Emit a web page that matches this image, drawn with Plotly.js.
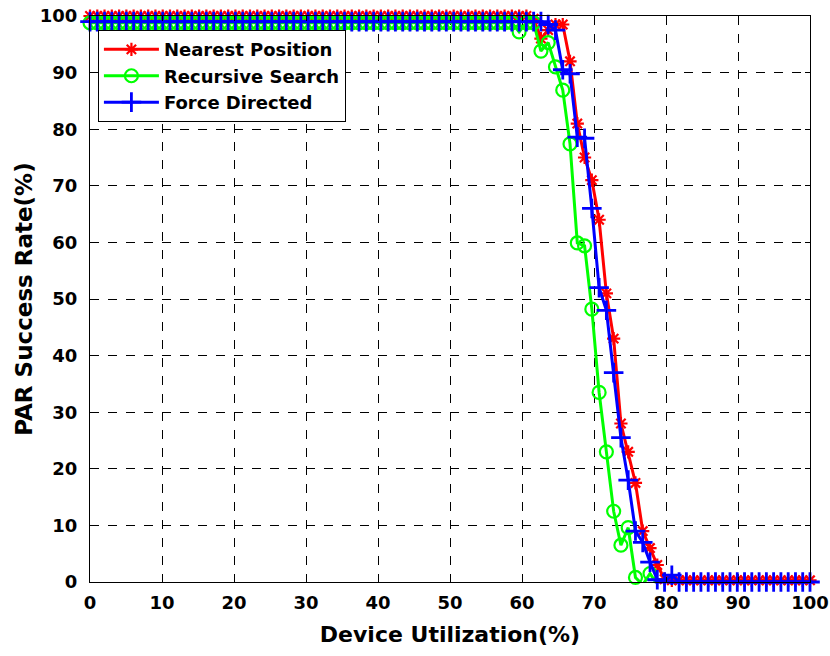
<!DOCTYPE html>
<html>
<head>
<meta charset="utf-8">
<script src="https://cdn.plot.ly/plotly-3.0.1.min.js"></script>
<style>
  html, body { margin: 0; padding: 0; background: #fff; }
  #chart { width: 830px; height: 656px; }
</style>
</head>
<body>
<div id="chart"></div>
<script>
// Device utilization (%) at each sampled point
const utilization = [
  0, 1.01, 2.02, 3.03, 4.04, 5.05, 6.06, 7.07, 8.08, 9.09,
  10.10, 11.11, 12.12, 13.13, 14.14, 15.15, 16.16, 17.17, 18.18, 19.19,
  20.20, 21.21, 22.22, 23.23, 24.24, 25.25, 26.26, 27.27, 28.28, 29.29,
  30.30, 31.31, 32.32, 33.33, 34.34, 35.35, 36.36, 37.37, 38.38, 39.39,
  40.40, 41.41, 42.42, 43.43, 44.44, 45.45, 46.46, 47.47, 48.48, 49.49,
  50.51, 51.52, 52.53, 53.54, 54.55, 55.56, 56.57, 57.58, 58.59, 59.60,
  60.61, 61.62, 62.63, 63.64, 64.65, 65.66, 66.67, 67.68, 68.69, 69.70,
  70.71, 71.72, 72.73, 73.74, 74.75, 75.76, 76.77, 77.78, 78.79, 79.80,
  80.81, 81.82, 82.83, 83.84, 84.85, 85.86, 86.87, 87.88, 88.89, 89.90,
  90.91, 91.92, 92.93, 93.94, 94.95, 95.96, 96.97, 97.98, 98.99, 100
];

// PAR success rate (%) per placement method
const nearestPosition = [
  100, 100, 100, 100, 100, 100, 100, 100, 100, 100,
  100, 100, 100, 100, 100, 100, 100, 100, 100, 100,
  100, 100, 100, 100, 100, 100, 100, 100, 100, 100,
  100, 100, 100, 100, 100, 100, 100, 100, 100, 100,
  100, 100, 100, 100, 100, 100, 100, 100, 100, 100,
  100, 100, 100, 100, 100, 100, 100, 100, 100, 100,
  100, 99.5, 96, 97.5, 98.5, 98.5, 92, 81, 75, 71,
  64, 51, 43, 28, 23, 17.5, 9, 6, 3, 0.5,
  0.3, 0.3, 0.3, 0.3, 0.3, 0.3, 0.3, 0.3, 0.3, 0.3,
  0.3, 0.3, 0.3, 0.3, 0.3, 0.3, 0.3, 0.3, 0.3, 0.3
];

const recursiveSearch = [
  98.8, 98.8, 98.8, 98.8, 98.8, 98.8, 98.8, 98.8, 98.8, 98.8,
  98.8, 98.8, 98.8, 98.8, 98.8, 98.8, 98.8, 98.8, 98.8, 98.8,
  98.8, 98.8, 98.8, 98.8, 98.8, 98.8, 98.8, 98.8, 98.8, 98.8,
  98.8, 98.8, 98.8, 98.8, 98.8, 98.8, 98.8, 98.8, 98.8, 98.8,
  98.8, 98.8, 98.8, 98.8, 98.8, 98.8, 98.8, 98.8, 98.8, 98.8,
  98.8, 98.8, 98.8, 98.8, 98.8, 98.8, 98.8, 98.8, 98.8, 97.2,
  98.8, 98.8, 93.8, 95.3, 91, 86.9, 77.4, 59.9, 59.4, 48.2,
  33.5, 23, 12.5, 6.5, 9.6, 0.8, -0.5, 1.5, -0.5, -0.3,
  -0.3, -0.3, -0.3, -0.3, -0.3, -0.3, -0.3, -0.3, -0.3, -0.3,
  -0.3, -0.3, -0.3, -0.3, -0.3, -0.3, -0.3, -0.3, -0.3, -0.3
];

const forceDirected = [
  99, 99, 99, 99, 99, 99, 99, 99, 99, 99,
  99, 99, 99, 99, 99, 99, 99, 99, 99, 99,
  99, 99, 99, 99, 99, 99, 99, 99, 99, 99,
  99, 99, 99, 99, 99, 99, 99, 99, 99, 99,
  99, 99, 99, 99, 99, 99, 99, 99, 99, 99,
  99, 99, 99, 99, 99, 99, 99, 99, 99, 99,
  99, 99, 99, 98.5, 97.5, 90.5, 89.8, 78.6, 78.4, 66,
  52, 48, 37, 25.5, 18, 9, 7, 3.5, 0.4, 0,
  1.2, 0, 0, 0, 0, 0, 0, 0, 0, 0,
  0, 0, 0, 0, 0, 0, 0, 0, 0, 0
];

const seriesNames = ['Nearest Position', 'Recursive Search', 'Force Directed'];
const tickValues = [0, 10, 20, 30, 40, 50, 60, 70, 80, 90, 100];

const textFont = 'DejaVu Sans, Liberation Sans, Arial, sans-serif';

const traces = [
  {
    x: utilization, y: nearestPosition, name: seriesNames[0],
    type: 'scatter', mode: 'lines+markers', cliponaxis: false,
    line: { color: '#ff0000', width: 3 },
    marker: { symbol: 'asterisk-open', size: 11, color: '#ff0000',
              line: { color: '#ff0000', width: 2.2 } }
  },
  {
    x: utilization, y: recursiveSearch, name: seriesNames[1],
    type: 'scatter', mode: 'lines+markers', cliponaxis: false,
    line: { color: '#00ff00', width: 3 },
    marker: { symbol: 'circle-open', size: 13, color: '#00ff00',
              line: { color: '#00ff00', width: 2.2 } }
  },
  {
    x: utilization, y: forceDirected, name: seriesNames[2],
    type: 'scatter', mode: 'lines+markers', cliponaxis: false,
    line: { color: '#0000ff', width: 3 },
    marker: { symbol: 'cross-thin-open', size: 14, color: '#0000ff',
              line: { color: '#0000ff', width: 2.8 } }
  }
];

const axisCommon = {
  range: [0, 100],
  tickvals: tickValues,
  ticktext: tickValues.map(String),
  showline: true, linecolor: '#000', linewidth: 1, mirror: 'ticks',
  ticks: 'inside', ticklen: 5, tickcolor: '#000', tickwidth: 1,
  showgrid: true, gridcolor: '#000', gridwidth: 1, griddash: 'dash',
  zeroline: false,
  tickfont: { family: textFont, size: 18, color: '#000', weight: 'bold' }
};

const layout = {
  width: 830, height: 656,
  paper_bgcolor: '#fff', plot_bgcolor: '#fff',
  margin: { l: 90, r: 20, t: 16, b: 74 },
  showlegend: true,
  legend: {
    x: 0.011, y: 0.975, xanchor: 'left', yanchor: 'top',
    bgcolor: '#fff', bordercolor: '#000', borderwidth: 1,
    font: { family: textFont, size: 18, color: '#000', weight: 'bold' },
    itemwidth: 55,
    tracegroupgap: 0
  },
  xaxis: Object.assign({}, axisCommon, {
    ticklabelstandoff: 4,
    title: { text: 'Device Utilization(%)', standoff: 15,
             font: { family: textFont, size: 22, color: '#000', weight: 'bold' } }
  }),
  yaxis: Object.assign({}, axisCommon, {
    ticklabelstandoff: 8,
    title: { text: 'PAR Success Rate(%)', standoff: 0,
             font: { family: textFont, size: 23, color: '#000', weight: 'bold' } }
  })
};

Plotly.newPlot('chart', traces, layout, { staticPlot: true, displayModeBar: false });
</script>
</body>
</html>
